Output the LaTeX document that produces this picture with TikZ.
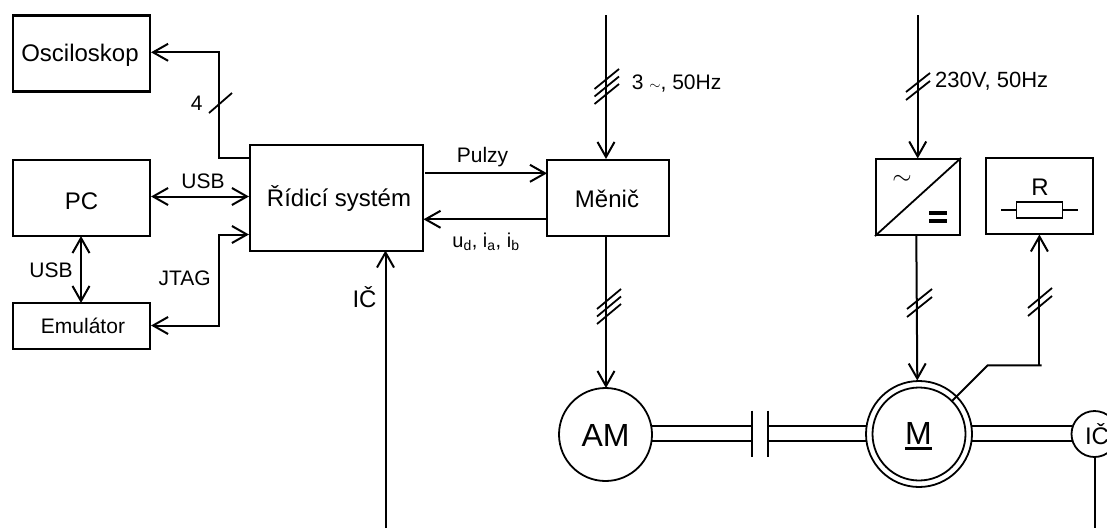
\documentclass[tikz,border=0pt]{standalone}
\usepackage{fontspec}
\setmainfont{Liberation Sans}
\usetikzlibrary{arrows.meta}
\tikzset{
  box/.style={draw,line width=2.1pt,inner sep=0pt,rectangle},
  wire/.style={line width=2pt},
  shaft/.style={line width=1.8pt},
  conn/.style={wire,-{Straight Barb[length=15pt,width=17pt,line width=2pt]}},
  biconn/.style={wire,{Straight Barb[length=15pt,width=17pt,line width=2pt]}-{Straight Barb[length=15pt,width=17pt,line width=2pt]}},
  slash/.style={line width=1.8pt},
  lbl/.style={inner sep=0pt,font=\fontsize{21}{24}\selectfont},
  big/.style={inner sep=0pt,font=\fontsize{24}{28}\selectfont},
  huge/.style={inner sep=0pt,font=\fontsize{32}{36}\selectfont},
  rot/.style={draw,circle,line width=1.8pt,inner sep=0pt,fill=white},
}
\begin{document}
\begin{tikzpicture}[x=1pt,y=-1pt]
\useasboundingbox (0,0) rectangle (1107,528);
\clip (0,0) rectangle (1107,528);
% boxes
\node[box,minimum width=137pt,minimum height=76pt] (osc) at (81.5,53.5) {};
\node[big] (osct) at (80,55) {Osciloskop};
\node[box,minimum width=137pt,minimum height=76pt] (pc) at (81.5,198) {};
\node[big] (pct) at (81.5,201.5) {PC};
\node[box,minimum width=137pt,minimum height=46pt] (emu) at (81.5,326) {};
\node[lbl] (emut) at (83,326) {Emulátor};
\node[box,minimum width=173pt,minimum height=106pt] (rs) at (336.5,198) {};
\node[big] (rst) at (339,198) {Řídicí systém};
\node[box,minimum width=122pt,minimum height=76pt] (men) at (608,198) {};
\node[big] (ment) at (607,198.5) {Měnič};
\node[box,minimum width=84pt,minimum height=76pt] (conv) at (918,197) {};
\node[box,minimum width=107pt,minimum height=76pt] (rb) at (1039.5,196) {};
% converter
\draw[line width=1.8pt] (conv.south west) -- (conv.north east);
\node[inner sep=0pt,font=\fontsize{32}{32}\selectfont] (tl) at (902,180) {$\sim$};
\fill (929,211) rectangle (947,214.5);
\fill (929,219) rectangle (947,222.5);
% resistor
\node[big] (rl) at (1040,187) {R};
\node[draw,line width=1.7pt,minimum width=46pt,minimum height=16pt,inner sep=0pt] (res) at (1039.5,210) {};
\coordinate (resl) at (1001,210);
\coordinate (resr) at (1078,210);
\draw[shaft] (resl) -- (res.west) (res.east) -- (resr);
% machines
\node[rot,minimum size=93pt] (am) at (605.5,434.5) {};
\node[huge] (amt) at (605.5,435) {AM};
\node[rot,minimum size=106pt] (mo) at (919,434) {};
\node[rot,minimum size=93pt] (mi) at (919,434) {};
\node[huge] (mt) at (918.5,433) {M};
\fill (905.3,447) rectangle (932,449.5);
\node[rot,minimum size=46pt] (ic) at (1094.5,434) {};
\node[big] (ict) at (1097,434) {IČ};
% shafts
\coordinate (c1a) at (752,426); \coordinate (c1b) at (752,441.3);
\coordinate (c2a) at (768,426); \coordinate (c2b) at (768,441.3);
\coordinate (c1t) at (752,410.7); \coordinate (c1u) at (752,457.3);
\coordinate (c2t) at (768,410.7); \coordinate (c2u) at (768,457.3);
\coordinate (a1) at (652,426); \coordinate (a2) at (652,441.3);
\coordinate (m1) at (866,426); \coordinate (m2) at (866,441.3);
\coordinate (n1) at (972,426); \coordinate (n2) at (972,441.3);
\coordinate (i1) at (1072,426); \coordinate (i2) at (1072,441.3);
\draw[shaft] (a1) -- (c1a) (a2) -- (c1b) (c2a) -- (m1) (c2b) -- (m2) (n1) -- (i1) (n2) -- (i2);
\draw[shaft] (c1t) -- (c1u) (c2t) -- (c2u);
% left side connectors
\coordinate (j1) at (218.5,52.3);
\coordinate (j2) at (218.5,158);
\draw[conn] (j2 -| rs.west) -- (j2) -- (j1) -- (j1 -| osc.east);
\draw[biconn] (pc.east |- 0,196.5) -- (rs.west |- 0,196.5);
\draw[biconn] (81,236) -- (81,303);
\coordinate (j3) at (218.5,234.5);
\coordinate (j4) at (218.5,325.5);
\draw[biconn] (j3 -| rs.west) -- (j3) -- (j4) -- (j4 -| emu.east);
\coordinate (ir) at (385.5,528);
\draw[conn] (ir) -- (385.5,250.5);
% pulses
\draw[conn] (425,173.3) -- (547,173.3);
\draw[conn] (547,219.3) -- (423.5,219.3);
% vertical power
\coordinate (s1) at (606,15);
\draw[conn] (s1) -- (606,159);
\draw[conn] (606,236) -- (606,388);
\coordinate (s2) at (917.7,15);
\draw[conn] (s2) -- (917.7,158.5);
\draw[conn] (916.3,235) -- (917.3,380.5);
\coordinate (rj) at (1041.7,365.3);
\coordinate (rk) at (987.7,365.3);
\coordinate (ml) at (952,401);
\draw[wire] (ml) -- (rk) -- (rj);
\coordinate (rv) at (1039.4,365.3);
\draw[conn] (rv) -- (1039.4,234.5);
% IC line
\coordinate (ie) at (1094.5,528);
\draw[wire] (ic.south) -- (ie);
% slashes
\draw[slash] (209,113) -- (232,93);
\foreach \d in {0,7.5,15} \draw[slash] (594.5,104-\d) -- (619,84-\d);
\foreach \d in {0,8} \draw[slash] (906,100-\d) -- (930,81-\d);
\foreach \d in {0,7.5,15} \draw[slash] (597,324-\d) -- (621,304-\d);
\foreach \d in {0,8} \draw[slash] (907,317-\d) -- (932,297-\d);
\foreach \d in {0,8} \draw[slash] (1028,316-\d) -- (1052,296-\d);
% labels
\node[lbl] (l4) at (196.7,103.3) {4};
\node[lbl] (lu) at (203,181.7) {USB};
\node[lbl] (lu2) at (51,270) {USB};
\node[lbl] (lj) at (184.7,278.3) {JTAG};
\node[big] (lic) at (364.5,296.7) {IČ};
\node[lbl] (lp) at (482.5,157) {Pulzy};
\node[lbl,font=\fontsize{20}{23}\selectfont] (lu3) at (486,242) {u\textsubscript{d}, i\textsubscript{a}, i\textsubscript{b}};
\node[lbl,anchor=west] (l3) at (631.7,83.3) {3 ${\scriptstyle\sim}$, 50Hz};
\node[lbl,anchor=west,font=\fontsize{22}{25}\selectfont] (l230) at (935,81.7) {230V, 50Hz};
\end{tikzpicture}
\end{document}
